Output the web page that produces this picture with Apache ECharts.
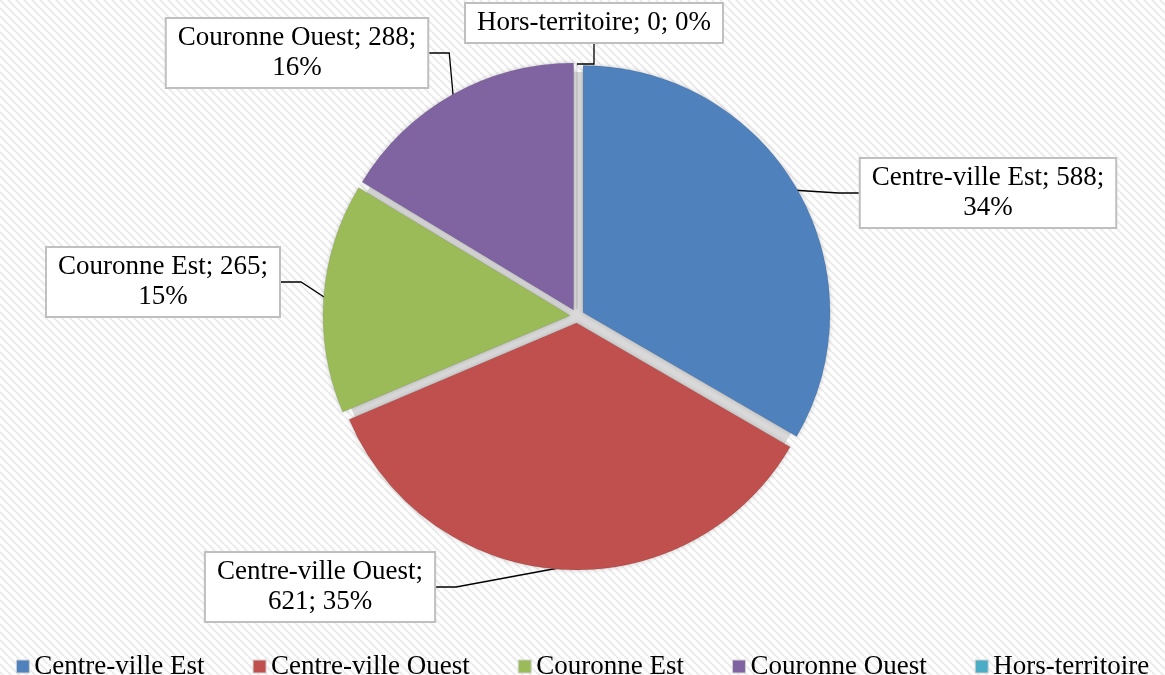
<!DOCTYPE html>
<html>
<head>
<meta charset="utf-8">
<script src="https://cdn.jsdelivr.net/npm/echarts@6/dist/echarts.min.js"></script>
<style>
  html, body { margin: 0; padding: 0; background: #fff; }
  #chart { width: 1165px; height: 675px; }
</style>
</head>
<body>
<div id="chart"></div>
<script>
// Répartition par secteur
var categories = ['Centre-ville Est', 'Centre-ville Ouest', 'Couronne Est', 'Couronne Ouest', 'Hors-territoire'];
var values = [588, 621, 265, 288, 0];
var colors = ['#4F81BD', '#C0504D', '#9BBB59', '#8064A2', '#4BACC6'];
// label box centres
var labelPos = [[988, 193], [320, 587], [163, 282], [297, 53], [594, 23]];
var labelTemplates = ['{b}; {c};\n{d}%', '{b};\n{c}; {d}%', '{b}; {c};\n{d}%', '{b}; {c};\n{d}%', '{b}; {c}; {d}%'];

// hatched background
var hatch = document.createElement('canvas');
hatch.width = 8;
hatch.height = 8;
(function () {
    var ctx = hatch.getContext('2d');
    ctx.fillStyle = '#ffffff';
    ctx.fillRect(0, 0, 8, 8);
    ctx.strokeStyle = '#ececec';
    ctx.lineWidth = 2.2;
    for (var k = -8; k <= 16; k += 8) {
        ctx.beginPath();
        ctx.moveTo(k, 0);
        ctx.lineTo(k + 8, 8);
        ctx.stroke();
    }
})();

var chart = echarts.init(document.getElementById('chart'));
var font = '"Liberation Serif", serif';
var center = [577, 316];

// slices: every one pulled out a little (exploded pie)
var sliceData = categories.map(function (name, i) {
    return { name: name, value: values[i], selected: true };
});
// same values again, only to carry the labels
var labelData = categories.map(function (name, i) {
    return { name: name, value: values[i], label: { formatter: labelTemplates[i] } };
});

var option = {
    backgroundColor: { image: hatch, repeat: 'repeat' },
    color: colors,
    animation: false,
    legend: {
        data: categories,
        top: 648,
        left: 'center',
        icon: 'rect',
        itemWidth: 13,
        itemHeight: 13,
        itemGap: 48,
        selectedMode: false,
        textStyle: {
            fontFamily: font,
            fontSize: 27,
            color: '#000'
        },
        itemStyle: {
            borderColor: '#d0d0d0',
            borderWidth: 1
        }
    },
    series: [
        {
            // grey shadow disc seen through the gaps between slices
            type: 'pie',
            center: center,
            radius: 244,
            silent: true,
            label: { show: false },
            labelLine: { show: false },
            itemStyle: { color: '#d9d9d9' },
            data: [{ name: '', value: 1 }]
        },
        {
            type: 'pie',
            center: center,
            radius: 247,
            startAngle: 90,
            clockwise: true,
            selectedMode: 'multiple',
            selectedOffset: 7,
            stillShowZeroSum: true,
            data: sliceData,
            itemStyle: {
                borderColor: 'rgba(0,0,0,0.08)',
                borderWidth: 1,
                shadowColor: 'rgba(0,0,0,0.2)',
                shadowBlur: 5
            },
            label: { show: false },
            labelLine: { show: false },
            emphasis: { disabled: true }
        },
        {
            type: 'pie',
            center: center,
            radius: 252,
            startAngle: 90,
            clockwise: true,
            silent: true,
            percentPrecision: 0,
            stillShowZeroSum: true,
            data: labelData,
            itemStyle: { color: 'rgba(0,0,0,0)', borderWidth: 0 },
            label: {
                show: true,
                position: 'outside',
                fontFamily: font,
                fontSize: 27,
                lineHeight: 30,
                color: '#000',
                align: 'center',
                backgroundColor: '#fff',
                borderColor: '#bfbfbf',
                borderWidth: 2,
                padding: [4, 11, 4, 11]
            },
            labelLine: {
                show: true,
                length: 20,
                length2: 20,
                lineStyle: { color: '#000', width: 1.3 }
            },
            labelLayout: function (params) {
                var p = labelPos[params.dataIndex];
                return {
                    x: p[0],
                    y: p[1],
                    align: 'center',
                    verticalAlign: 'middle'
                };
            },
            emphasis: { disabled: true }
        }
    ]
};
chart.setOption(option);
</script>
</body>
</html>
